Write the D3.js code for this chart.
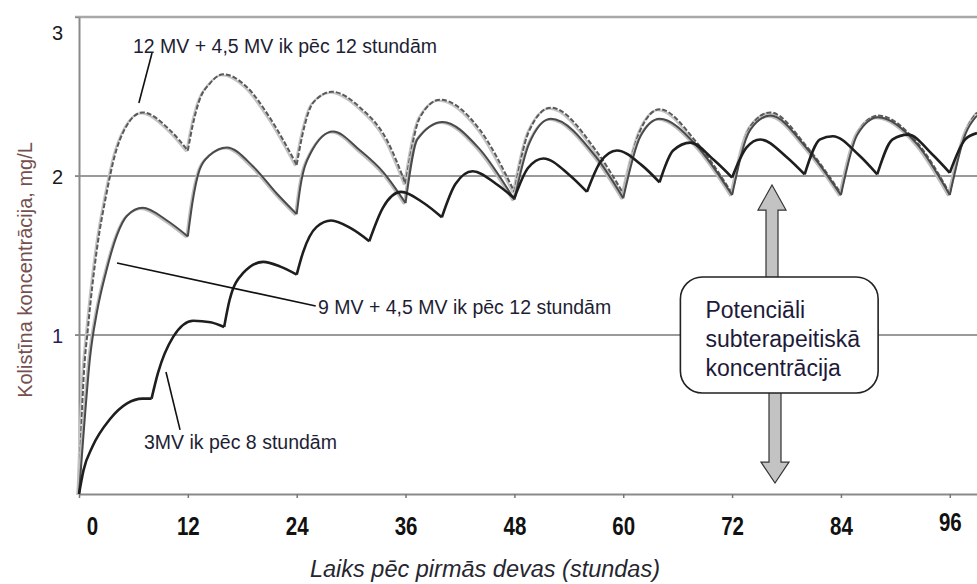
<!DOCTYPE html>
<html>
<head>
<meta charset="utf-8">
<script src="https://d3js.org/d3.v7.min.js"></script>
<style>
  body { margin: 0; background: #fff; }
  svg { display: block; font-family: "Liberation Sans", Arial, sans-serif; }
</style>
</head>
<body>
<svg id="chart" width="977" height="584"></svg>
<script>
//
var hourTicks = [0, 12, 24, 36, 48, 60, 72, 84, 96];
var concTicks = [1, 2, 3];

// 12 MV + 4,5 MV ik pēc 12 stundām
var dosesA = [0, 12, 24, 36, 48, 60, 72, 84, 96];
var hoursA = [0, 0.5, 1, 2, 3, 4, 5, 7, 10, 12,
              12.5, 13.3, 14.4, 15.9, 18.5, 21, 24,
              24.6, 25.8, 27.9, 31, 34, 36,
              37.6, 39.8, 44.2, 48,
              49.6, 52, 57, 60,
              61.9, 64, 68.1, 72,
              74, 76.2, 80.3, 84,
              85.8, 88.1, 92.4, 96,
              97.7, 99];
var concA  = [0, 0.72, 1.05, 1.55, 1.88, 2.14, 2.29, 2.40, 2.29, 2.16,
              2.31, 2.48, 2.58, 2.64, 2.56, 2.37, 2.07,
              2.25, 2.46, 2.53, 2.43, 2.22, 1.95,
              2.37, 2.48, 2.29, 1.90,
              2.28, 2.43, 2.16, 1.89,
              2.29, 2.42, 2.21, 1.89,
              2.31, 2.40, 2.18, 1.89,
              2.27, 2.38, 2.21, 1.89,
              2.27, 2.40];

// 9 MV + 4,5 MV ik pēc 12 stundām
var dosesB = [0, 12, 24, 36, 48, 60, 72, 84, 96];
var hoursB = [0, 0.6, 1.2, 2, 3, 4.2, 5.3, 7, 9.7, 12,
              12.5, 13.3, 14.4, 16.3, 19.2, 21.8, 24,
              24.4, 25.5, 28, 31, 33.6, 36,
              37.3, 40.1, 44, 48,
              49.6, 52, 57, 60,
              61.9, 64, 68.1, 72,
              74, 76.2, 80.3, 84,
              85.8, 88.1, 92.4, 96,
              97.7, 99];
var concB  = [0, 0.45, 0.85, 1.15, 1.40, 1.63, 1.75, 1.80, 1.72, 1.62,
              1.83, 2.04, 2.13, 2.18, 2.06, 1.89, 1.76,
              1.93, 2.14, 2.28, 2.16, 2.02, 1.83,
              2.23, 2.34, 2.18, 1.85,
              2.20, 2.36, 2.12, 1.86,
              2.25, 2.36, 2.19, 1.88,
              2.29, 2.38, 2.17, 1.88,
              2.26, 2.37, 2.20, 1.88,
              2.26, 2.38];

// 3MV ik pēc 8 stundām
var dosesC = [0, 8, 16, 24, 32, 40, 48, 56, 64, 72, 80, 88, 96];
var hoursC = [0, 0.5, 1.5, 3.4, 5.3, 7, 8,
              8.7, 10.4, 12.6, 14.5, 16,
              16.6, 18.1, 20.3, 22.2, 24,
              24.7, 26.2, 27.8, 30, 32,
              33.5, 35.5, 38, 40,
              41.5, 43.4, 46, 48,
              49.5, 51.2, 54, 56,
              57.5, 59.3, 62, 64,
              65.5, 67.4, 70, 72,
              73.6, 75.1, 78, 80,
              81.7, 83.1, 86, 88,
              89.7, 91.4, 94, 96,
              97.7, 99];
var concC  = [0, 0.15, 0.30, 0.47, 0.57, 0.60, 0.60,
              0.76, 0.99, 1.09, 1.08, 1.05,
              1.22, 1.39, 1.46, 1.43, 1.38,
              1.52, 1.68, 1.72, 1.67, 1.59,
              1.80, 1.90, 1.83, 1.74,
              1.95, 2.03, 1.95, 1.86,
              2.05, 2.11, 2.01, 1.90,
              2.09, 2.16, 2.07, 1.96,
              2.16, 2.21, 2.10, 1.99,
              2.18, 2.23, 2.12, 2.01,
              2.23, 2.25, 2.13, 2.01,
              2.23, 2.26, 2.14, 2.02,
              2.23, 2.27];

var seriesLabels = ["12 MV + 4,5 MV ik pēc 12 stundām",
                    "9 MV + 4,5 MV ik pēc 12 stundām",
                    "3MV ik pēc 8 stundām"];
var boxLines = ["Potenciāli", "subterapeitiskā", "koncentrācija"];

//
function segments(hours, conc, doses) {
  var pts = hours.map(function(h, i) { return [h, conc[i]]; });
  return doses.map(function(d, i) {
    var end = i < doses.length - 1 ? doses[i + 1] : Infinity;
    return pts.filter(function(p) { return p[0] >= d && p[0] <= end; });
  }).filter(function(s) { return s.length > 1; });
}

function drawChart() {
  var svg = d3.select("#chart");
  var left = 79, right = 977, top = 17, bottom = 494;

  var x = d3.scaleLinear().domain([0, 99]).range([left, right]);
  var y = d3.scaleLinear().domain([0, 3]).range([bottom, top]);

  // grid lines
  svg.append("g").selectAll("line")
    .data(concTicks)
    .join("line")
      .attr("x1", left - 4).attr("x2", right)
      .attr("y1", function(d) { return y(d); })
      .attr("y2", function(d) { return y(d); })
      .attr("stroke", function(d) { return d === 3 ? "#a8a8a8" : "#9a9a9a"; })
      .attr("stroke-width", function(d) { return d === 3 ? 2.5 : 2; });

  // x axis
  var xAxis = svg.append("g")
    .attr("transform", "translate(0," + bottom + ")")
    .call(d3.axisBottom(x).tickValues(hourTicks).tickSize(4).tickSizeOuter(0));
  xAxis.select(".domain").attr("stroke", "#8a8a8a").attr("stroke-width", 2);
  xAxis.selectAll(".tick line").attr("stroke", "#777").attr("stroke-width", 1.5);
  xAxis.selectAll(".tick text")
    .attr("y", function(d) { return d === 96 ? 37 : 41; })
    .attr("dy", 0)
    .attr("transform", function(d) { return (d === 0 ? "translate(13,0) " : "") + "scale(0.82,1)"; })
    .attr("fill", "#111")
    .style("font-size", "25px")
    .style("font-weight", "bold")
    .style("font-family", "'Liberation Sans', Arial, sans-serif");

  // y axis
  var yAxis = svg.append("g")
    .attr("transform", "translate(" + left + ",0)")
    .call(d3.axisLeft(y).tickValues(concTicks).tickFormat(d3.format("d"))
      .tickSize(4).tickPadding(12).tickSizeOuter(0));
  yAxis.select(".domain").attr("stroke", "#8a8a8a").attr("stroke-width", 2);
  yAxis.selectAll(".tick line").attr("stroke", "#8a8a8a");
  yAxis.selectAll(".tick text")
    .attr("dy", function(d) { return d === 3 ? "1.1em" : "0.35em"; })
    .attr("fill", function(d) { return d === 1 ? "#2a1a5a" : "#1a1a1a"; })
    .style("font-size", "20px")
    .style("font-family", "'Liberation Sans', Arial, sans-serif");

  // axis titles
  svg.append("text")
    .attr("transform", "translate(32,270) rotate(-90)")
    .attr("text-anchor", "middle")
    .attr("fill", "#74504e")
    .style("font-size", "20px")
    .text("Kolistīna koncentrācija, mg/L");
  svg.append("text")
    .attr("x", 485).attr("y", 577)
    .attr("text-anchor", "middle")
    .attr("fill", "#262630")
    .style("font-size", "23.5px")
    .style("font-style", "italic")
    .text("Laiks pēc pirmās devas (stundas)");

  // curves
  var line = d3.line()
    .x(function(p) { return x(p[0]); })
    .y(function(p) { return y(p[1]); })
    .curve(d3.curveMonotoneX);

  var series = [
    {segs: segments(hoursA, concA, dosesA), color: "#5a5a5a", shade: "#c4c4c4", width: 2, dash: "5,2"},
    {segs: segments(hoursB, concB, dosesB), color: "#4a4a4a", shade: "#bdbdbd", width: 2, dash: null},
    {segs: segments(hoursC, concC, dosesC), color: "#1e1e1e", shade: null, width: 2.6, dash: null}
  ];
  series.forEach(function(s) {
    var g = svg.append("g").attr("fill", "none");
    if (s.shade) {
      g.selectAll("path.shade").data(s.segs).join("path")
        .attr("class", "shade")
        .attr("d", line)
        .attr("transform", "translate(-1.5,1)")
        .attr("stroke", s.shade)
        .attr("stroke-width", 2.2);
    }
    g.selectAll("path.main").data(s.segs).join("path")
      .attr("class", "main")
      .attr("d", line)
      .attr("stroke", s.color)
      .attr("stroke-width", s.width)
      .attr("stroke-dasharray", s.dash)
      .attr("stroke-linejoin", "round");
  });

  // arrows + box
  var ax = x(76.4), shaft = 6, head = 14;
  var boxX0 = x(66.3), boxX1 = x(88.1), boxY0 = y(1.365), boxY1 = y(0.635);
  var upTip = y(1.943), upBase = y(1.786), downTip = y(0.069), downBase = y(0.2);
  var arrowUp = [[ax, upTip], [ax + head, upBase], [ax + shaft, upBase], [ax + shaft, boxY0 + 4],
                 [ax - shaft, boxY0 + 4], [ax - shaft, upBase], [ax - head, upBase]];
  var dx = ax + 3;
  var arrowDown = [[dx, downTip], [dx + head, downBase], [dx + shaft, downBase], [dx + shaft, boxY1 - 4],
                   [dx - shaft, boxY1 - 4], [dx - shaft, downBase], [dx - head, downBase]];
  svg.append("g").selectAll("polygon")
    .data([arrowUp, arrowDown])
    .join("polygon")
      .attr("points", function(d) { return d.join(" "); })
      .attr("fill", "#c3c3c3")
      .attr("stroke", "#333")
      .attr("stroke-width", 1.2);

  svg.append("rect")
    .attr("x", boxX0).attr("y", boxY0)
    .attr("width", boxX1 - boxX0).attr("height", boxY1 - boxY0)
    .attr("rx", 22).attr("ry", 22)
    .attr("fill", "#fff")
    .attr("stroke", "#222")
    .attr("stroke-width", 1.6);
  svg.append("g").selectAll("text")
    .data(boxLines)
    .join("text")
      .attr("x", boxX0 + 25)
      .attr("y", function(d, i) { return boxY0 + 41 + i * 29; })
      .attr("fill", "#1e1a3a")
      .style("font-size", "23px")
      .text(function(d) { return d; });

  // series labels with leader lines
  var notes = [
    {from: [6.6, 2.459], to: [8.05, 2.774], tx: 133, ty: 53},
    {from: [4.19, 1.453], to: [26.1, 1.182], tx: 318, ty: 314},
    {from: [9.59, 0.767], to: [11.14, 0.403], tx: 144, ty: 449}
  ];
  notes.forEach(function(n, i) {
    svg.append("line")
      .attr("x1", x(n.from[0])).attr("y1", y(n.from[1]))
      .attr("x2", x(n.to[0])).attr("y2", y(n.to[1]))
      .attr("stroke", "#111")
      .attr("stroke-width", 1.6);
    svg.append("text")
      .attr("x", n.tx).attr("y", n.ty)
      .attr("fill", "#1e1e34")
      .style("font-size", "19.5px")
      .text(seriesLabels[i]);
  });
}

drawChart();
</script>
</body>
</html>
